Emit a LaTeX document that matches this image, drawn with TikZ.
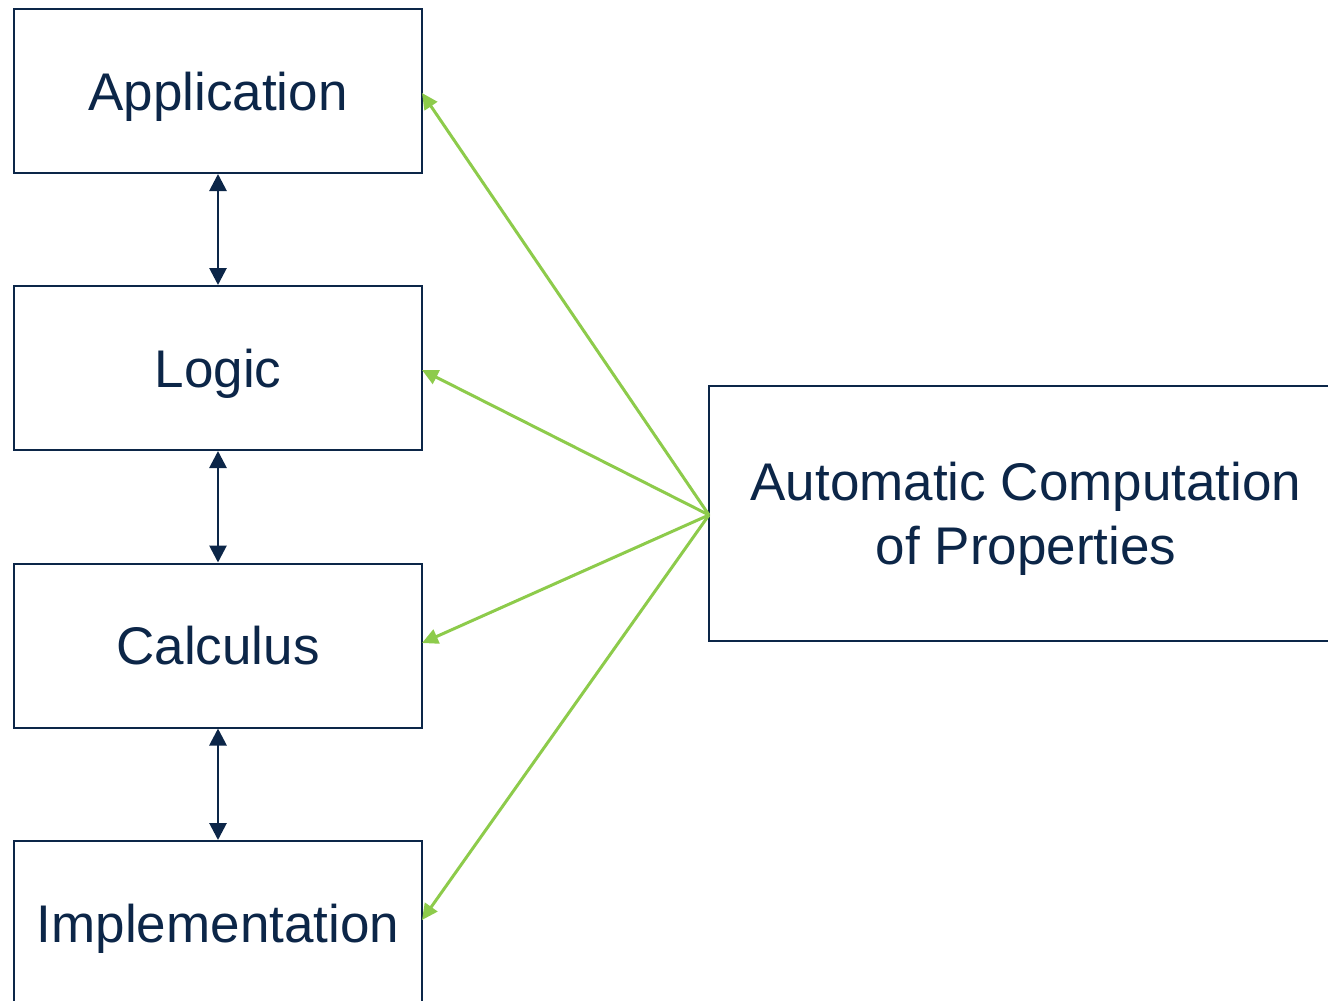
\documentclass[tikz,border=0pt]{standalone}
\usepackage{fontspec}
\setmainfont{Liberation Sans}
\usetikzlibrary{arrows.meta}
\definecolor{navy}{HTML}{0C2648}
\definecolor{leaf}{HTML}{8DCB4B}
\begin{document}
\begin{tikzpicture}[x=1pt,y=1pt,
  layer/.style={draw=navy,line width=2pt,fill=white,minimum width=408pt,minimum height=164pt,
    text=navy,font=\fontsize{53}{64}\selectfont,inner sep=0pt,text depth=0pt},
  link/.style={navy,line width=2.8pt,{Triangle[length=17pt,width=17pt]}-{Triangle[length=17pt,width=17pt]}},
  feed/.style={leaf,line width=3pt,-{Triangle[length=16pt,width=15pt]}}]
\useasboundingbox (0,0) rectangle (1328,-1001);
\clip (0,0) rectangle (1328,-1001);
\node[layer] (app) at (218,-91) {Application};
\node[layer] (logic) at (218,-368) {Logic};
\node[layer] (calc) at (218,-645.5) {Calculus};
\node[layer] (impl) at (218,-923) {Implementation};
\node[layer,minimum width=634pt,minimum height=255pt,align=center] (auto) at (1026,-513.5)
  {Automatic Computation\\of Properties};
\coordinate (hub) at (709,-515);
\draw[link] (app.south) -- (logic.north);
\draw[link] (logic.south) -- (calc.north);
\draw[link] (calc.south) -- (impl.north);
\draw[feed] (hub) -- (422,-93);
\draw[feed] (hub) -- (422,-370);
\draw[feed] (hub) -- (422,-643);
\draw[feed] (hub) -- (422,-920);
\end{tikzpicture}
\end{document}
